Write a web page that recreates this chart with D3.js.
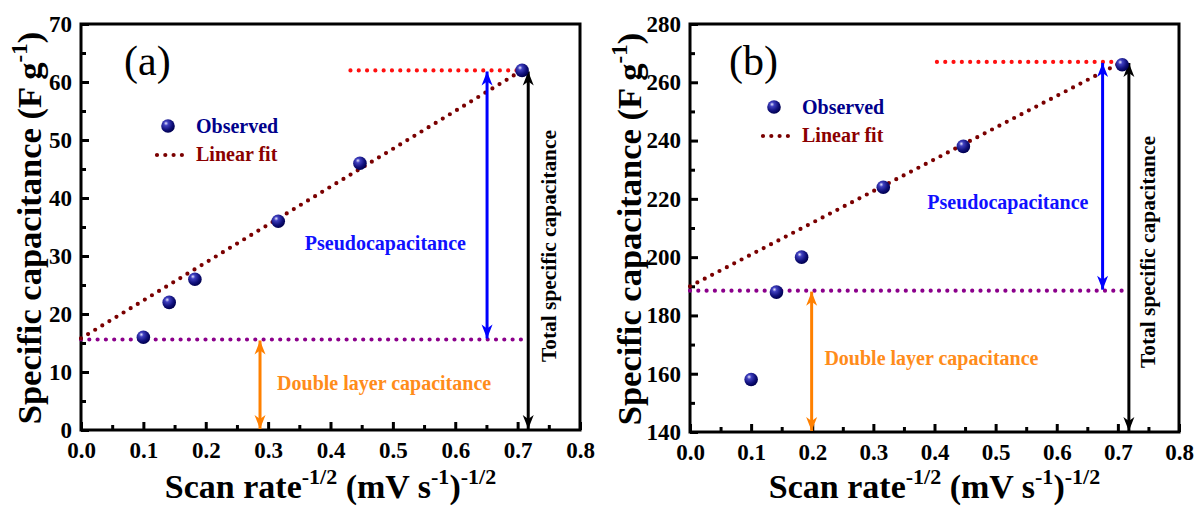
<!DOCTYPE html>
<html>
<head>
<meta charset="utf-8">
<script src="https://cdn.jsdelivr.net/npm/d3@7"></script>
<style>
  body { margin: 0; background: #fff; }
  text { font-family: "Liberation Serif", "Times New Roman", serif; }
</style>
</head>
<body>
<svg id="chart" width="1197" height="508"></svg>
<script>
// scan rate^-1/2 for 100, 50, 30, 10, 5, 2 mV/s
var scanRate = [0.1, 0.1414, 0.1826, 0.3162, 0.4472, 0.7071];
var capA = [16, 22, 26, 36, 46, 62];
var capB = [158, 188, 200, 224, 238, 266];

// linear fit end points (x = 0 and x = last scan rate)
var fitX = [0, 0.7071];
var fitA = [15.8, 62];
var fitB = [190, 267];

// guide levels: total capacitance and double layer (intercept)
var totalA = 62, edlcA = 15.6;
var totalB = 267, edlcB = 188.5;

var xTicks = [0, 0.1, 0.2, 0.3, 0.4, 0.5, 0.6, 0.7, 0.8];
var yTicksA = [0, 10, 20, 30, 40, 50, 60, 70];
var yTicksB = [140, 160, 180, 200, 220, 240, 260, 280];

var svg = d3.select("#chart");
var defs = svg.append("defs");

var grad = defs.append("radialGradient").attr("id", "ball")
  .attr("cx", "38%").attr("cy", "35%").attr("r", "65%").attr("fx", "35%").attr("fy", "30%");
grad.append("stop").attr("offset", "0%").attr("stop-color", "#e8e8ff");
grad.append("stop").attr("offset", "25%").attr("stop-color", "#4040c0");
grad.append("stop").attr("offset", "70%").attr("stop-color", "#10107a");
grad.append("stop").attr("offset", "100%").attr("stop-color", "#000050");

["blue", "black", "#ff8000"].forEach((c, i) => {
  defs.append("marker")
    .attr("id", "arr" + i)
    .attr("viewBox", "-15 -7 17 14")
    .attr("refX", 0).attr("refY", 0)
    .attr("markerWidth", 17).attr("markerHeight", 14)
    .attr("markerUnits", "userSpaceOnUse")
    .attr("orient", "auto-start-reverse")
    .append("path")
    .attr("d", "M0,0 L-14,-5.5 L-10,0 L-14,5.5 Z")
    .attr("fill", c);
});

var panels = [
  {
    left: 81, right: 580, top: 24, bottom: 430, yDomain: [0, 70], yTicks: yTicksA,
    cap: capA, fit: fitA, total: totalA, edlc: edlcA,
    redFrom: 0.432, purpleTo: 0.714,
    pseudoX: 0.651, edlcX: 0.287, totalX: 0.717,
    label: "(a)", labelX: 124, labelY: 75,
    legX: 168, legY: 126,
    pseudoPos: [0.488, 31.1], dlPos: [0.486, 6.9], totalPos: [556, 246],
    yTitleX: 41
  },
  {
    left: 690, right: 1179, top: 24, bottom: 432, yDomain: [140, 280], yTicks: yTicksB,
    cap: capB, fit: fitB, total: totalB, edlc: edlcB,
    redFrom: 0.404, purpleTo: 0.709,
    pseudoX: 0.675, edlcX: 0.199, totalX: 0.718,
    label: "(b)", labelX: 729, labelY: 75,
    legX: 774, legY: 107,
    pseudoPos: [0.52, 216.5], dlPos: [0.395, 163], totalPos: [1155, 252],
    yTitleX: 641
  }
];

panels.forEach(drawPanel);

function dotted(sel, color) {
  return sel.attr("stroke", color).attr("stroke-width", 4.2)
    .attr("stroke-linecap", "round").attr("stroke-dasharray", "0 8.3").attr("fill", "none");
}

function drawPanel(p) {
  var x = d3.scaleLinear().domain([0, 0.8]).range([p.left, p.right]);
  var y = d3.scaleLinear().domain(p.yDomain).range([p.bottom, p.top]);
  var g = svg.append("g");
  var line = d3.line().x(d => x(d[0])).y(d => y(d[1]));

  // minor ticks
  var minorX = d3.range(8).map(i => xTicks[i] + 0.05);
  var minorY = p.yTicks.slice(0, -1).map((d, i) => (d + p.yTicks[i + 1]) / 2);
  g.append("g").attr("transform", "translate(0," + p.bottom + ")")
    .call(d3.axisBottom(x).tickValues(minorX).tickSize(-5).tickFormat(""))
    .call(a => a.select(".domain").remove())
    .selectAll("line").attr("stroke-width", 3);
  g.append("g").attr("transform", "translate(" + p.left + ",0)")
    .call(d3.axisLeft(y).tickValues(minorY).tickSize(-5).tickFormat(""))
    .call(a => a.select(".domain").remove())
    .selectAll("line").attr("stroke-width", 3);

  // major ticks
  var xa = g.append("g").attr("transform", "translate(0," + p.bottom + ")")
    .call(d3.axisBottom(x).tickValues(xTicks).tickSize(-8).tickPadding(12).tickFormat(d3.format(".1f")));
  var ya = g.append("g").attr("transform", "translate(" + p.left + ",0)")
    .call(d3.axisLeft(y).tickValues(p.yTicks).tickSize(-8).tickPadding(9));
  [xa, ya].forEach(a => {
    a.select(".domain").remove();
    a.selectAll("line").attr("stroke-width", 3);
    a.selectAll("text").attr("font-size", 23).attr("font-weight", "bold")
      .attr("font-family", "Liberation Serif").attr("fill", "#000");
  });

  g.append("rect")
    .attr("x", p.left).attr("y", p.top)
    .attr("width", p.right - p.left).attr("height", p.bottom - p.top)
    .attr("fill", "none").attr("stroke", "#000").attr("stroke-width", 3);

  // guide lines
  dotted(g.append("path").attr("d", line([[p.redFrom, p.total], [fitX[1], p.total]])), "#ff1010");
  dotted(g.append("path").attr("d", line([[0, p.edlc], [p.purpleTo, p.edlc]])), "#8b008b");
  dotted(g.append("path").attr("d", line(fitX.map((d, i) => [d, p.fit[i]]))), "#7a0000");

  // arrows
  var arrows = [
    [p.pseudoX, p.total, p.edlc, "blue", 0],
    [p.totalX, p.total, p.yDomain[0], "black", 1],
    [p.edlcX, p.edlc, p.yDomain[0], "#ff8000", 2]
  ];
  arrows.forEach(a => {
    g.append("line")
      .attr("x1", x(a[0])).attr("x2", x(a[0]))
      .attr("y1", y(a[1]) + 1).attr("y2", y(a[2]) - 1)
      .attr("stroke", a[3]).attr("stroke-width", 3)
      .attr("marker-start", "url(#arr" + a[4] + ")")
      .attr("marker-end", "url(#arr" + a[4] + ")");
  });

  // observed points
  g.selectAll("circle.obs").data(scanRate).enter().append("circle")
    .attr("class", "obs")
    .attr("cx", d => x(d)).attr("cy", (d, i) => y(p.cap[i]))
    .attr("r", 6.8).attr("fill", "url(#ball)");

  // annotations
  g.append("text").attr("x", x(p.pseudoPos[0])).attr("y", y(p.pseudoPos[1]))
    .attr("text-anchor", "middle").attr("font-size", 20).attr("font-weight", "bold")
    .attr("fill", "#1010ff").text("Pseudocapacitance");
  g.append("text").attr("x", x(p.dlPos[0])).attr("y", y(p.dlPos[1]))
    .attr("text-anchor", "middle").attr("font-size", 20).attr("font-weight", "bold")
    .attr("fill", "#ff8c1a").text("Double layer capacitance");
  g.append("text")
    .attr("transform", "translate(" + p.totalPos[0] + "," + p.totalPos[1] + ") rotate(-90)")
    .attr("text-anchor", "middle").attr("font-size", 20).attr("font-weight", "bold")
    .attr("textLength", 232).attr("lengthAdjust", "spacingAndGlyphs")
    .attr("fill", "#000").text("Total specific capacitance");

  g.append("text").attr("x", p.labelX).attr("y", p.labelY)
    .attr("font-size", 42).attr("fill", "#000").text(p.label);

  // legend
  g.append("circle").attr("cx", p.legX).attr("cy", p.legY).attr("r", 6.8).attr("fill", "url(#ball)");
  g.append("text").attr("x", p.legX + 28).attr("y", p.legY + 7)
    .attr("font-size", 20).attr("font-weight", "bold").attr("fill", "#00008b").text("Observed");
  dotted(g.append("path").attr("d", "M" + (p.legX - 11) + "," + (p.legY + 29) + "h29"), "#7a0000");
  g.append("text").attr("x", p.legX + 28).attr("y", p.legY + 35)
    .attr("font-size", 20).attr("font-weight", "bold").attr("fill", "#8b0000").text("Linear fit");

  // axis titles
  var yt = g.append("text")
    .attr("transform", "translate(" + p.yTitleX + "," + ((p.top + p.bottom) / 2 + 1) + ") rotate(-90)")
    .attr("text-anchor", "middle").attr("font-size", 34.5).attr("font-weight", "bold").attr("fill", "#000");
  yt.append("tspan").text("Specific capacitance (F g");
  yt.append("tspan").attr("font-size", 23).attr("dy", -14).text("-1");
  yt.append("tspan").attr("dy", 14).text(")");

  var xt = g.append("text")
    .attr("x", (p.left + p.right) / 2).attr("y", 498)
    .attr("text-anchor", "middle").attr("font-size", 34).attr("font-weight", "bold").attr("fill", "#000");
  xt.append("tspan").text("Scan rate");
  xt.append("tspan").attr("font-size", 22).attr("dy", -14).text("-1/2");
  xt.append("tspan").attr("dy", 14).text(" (mV s");
  xt.append("tspan").attr("font-size", 22).attr("dy", -14).text("-1");
  xt.append("tspan").attr("dy", 14).text(")");
  xt.append("tspan").attr("font-size", 22).attr("dy", -14).text("-1/2");
}
</script>
</body>
</html>
